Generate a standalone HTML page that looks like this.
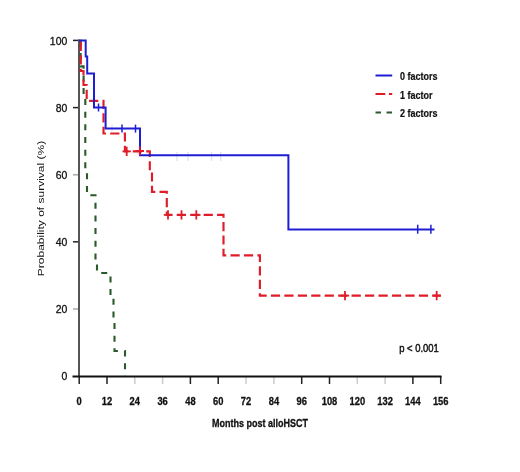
<!DOCTYPE html>
<html>
<head>
<meta charset="utf-8">
<style>
html,body{margin:0;padding:0;background:#fff;}
body{width:520px;height:472px;overflow:hidden;}
svg{display:block;filter:blur(0.55px);}
text{font-family:"Liberation Sans",sans-serif;font-weight:normal;fill:#111;stroke:#111;stroke-width:0.6px;}
.b text,text.b{font-weight:bold;stroke-width:0.3px;}
.yl{stroke-width:0px;}
.yt text{stroke-width:0.3px;}
.lg text{stroke-width:0.2px;}
</style>
</head>
<body>
<svg width="520" height="472" viewBox="0 0 520 472">
<rect x="0" y="0" width="520" height="472" fill="#fff"/>

<!-- y ticks -->
<g stroke="#222" stroke-width="1.5">
<line x1="73" y1="40.4" x2="79" y2="40.4"/>
<line x1="73" y1="107.6" x2="79" y2="107.6"/>
<line x1="73" y1="174.8" x2="79" y2="174.8" stroke="#aaa"/>
<line x1="73" y1="241.8" x2="79" y2="241.8"/>
<line x1="73" y1="309" x2="79" y2="309" stroke="#aaa"/>
</g>

<!-- x ticks -->
<g stroke="#222" stroke-width="1.5">
<line x1="79.2" y1="376" x2="79.2" y2="384"/>
<line x1="107" y1="376" x2="107" y2="384"/>
<line x1="134.8" y1="376" x2="134.8" y2="384" stroke="#ccc"/>
<line x1="162.6" y1="376" x2="162.6" y2="384" stroke="#ccc"/>
<line x1="190.4" y1="376" x2="190.4" y2="384"/>
<line x1="218.2" y1="376" x2="218.2" y2="384"/>
<line x1="246" y1="376" x2="246" y2="384" stroke="#ccc"/>
<line x1="273.9" y1="376" x2="273.9" y2="384" stroke="#ccc"/>
<line x1="301.7" y1="376" x2="301.7" y2="384"/>
<line x1="329.5" y1="376" x2="329.5" y2="384"/>
<line x1="357.3" y1="376" x2="357.3" y2="384" stroke="#ccc"/>
<line x1="385.1" y1="376" x2="385.1" y2="384" stroke="#ccc"/>
<line x1="412.9" y1="376" x2="412.9" y2="384"/>
<line x1="440.7" y1="376" x2="440.7" y2="384"/>
</g>

<!-- axes -->
<line x1="79" y1="39.5" x2="79" y2="377" stroke="#555" stroke-width="2"/>
<line x1="72.5" y1="376.5" x2="441.5" y2="376.5" stroke="#111" stroke-width="2"/>

<!-- y tick labels -->
<g font-size="11" text-anchor="end" class="yt">
<text transform="translate(67.3,44.5) scale(0.95,1)">100</text>
<text transform="translate(67.3,111.7) scale(0.95,1)">80</text>
<text transform="translate(67.3,178.9) scale(0.95,1)">60</text>
<text transform="translate(67.3,246) scale(0.95,1)">40</text>
<text transform="translate(67.3,313.2) scale(0.95,1)">20</text>
<text transform="translate(67.3,380.4) scale(0.95,1)">0</text>
</g>

<!-- x tick labels -->
<g font-size="11" text-anchor="middle" class="b">
<text transform="translate(79.2,405) scale(0.85,1)">0</text>
<text transform="translate(107,405) scale(0.85,1)">12</text>
<text transform="translate(134.8,405) scale(0.85,1)">24</text>
<text transform="translate(162.6,405) scale(0.85,1)">36</text>
<text transform="translate(190.4,405) scale(0.85,1)">48</text>
<text transform="translate(218.2,405) scale(0.85,1)">60</text>
<text transform="translate(246,405) scale(0.85,1)">72</text>
<text transform="translate(273.9,405) scale(0.85,1)">84</text>
<text transform="translate(301.7,405) scale(0.85,1)">96</text>
<text transform="translate(329.5,405) scale(0.85,1)">108</text>
<text transform="translate(357.3,405) scale(0.85,1)">120</text>
<text transform="translate(385.1,405) scale(0.85,1)">132</text>
<text transform="translate(412.9,405) scale(0.85,1)">144</text>
<text transform="translate(440.7,405) scale(0.85,1)">156</text>
</g>

<!-- axis titles -->
<text font-size="11" text-anchor="middle" class="b" transform="translate(260,427.3) scale(0.82,1)">Months post alloHSCT</text>
<text font-size="12" text-anchor="middle" class="yl" transform="translate(44.2,208.5) rotate(-90) scale(1,0.82)">Probability of survival (%)</text>

<!-- green curve: 2 factors -->
<path d="M79 40.5 H80.6 V66.4 H83.6 V96 H85.3 V170 H87 V195.3 H95.5 V262 H97 V273 H110.5 V298 H113.5 V324 H114.5 V351 H125 V376"
 fill="none" stroke="#2a5a2a" stroke-width="2.1" stroke-dasharray="6 6.66" stroke-dashoffset="-1.55"/>

<!-- red curve: 1 factor -->
<path d="M79 40.5 H80.8 V71 H83.5 V85 H86.7 V100.8 H103.5 V133.5 H124.9 V151.3 H149.8 V172.3 H152 V191.8 H166.8 V214.9 H223.5 V255.3 H259.9 V295.6 H440.8"
 fill="none" stroke="#e01c28" stroke-width="2.15" stroke-dasharray="9.2 4.25" stroke-dashoffset="10.3"/>


<g stroke="#dcdff0" stroke-width="1.2">
<line x1="112" y1="124.6" x2="112" y2="132.6"/>
<line x1="177" y1="152" x2="177" y2="161"/>
<line x1="188" y1="152" x2="188" y2="161"/>
<line x1="211.5" y1="152" x2="211.5" y2="161"/>
<line x1="220.7" y1="152" x2="220.7" y2="161"/>
</g>
<!-- blue curve: 0 factors -->
<path d="M79 40.5 H85.7 V56.5 H87.2 V73.5 H94 V107.5 H105.6 V128.6 H140 V155.3 H288.4 V229.5 H434.5"
 fill="none" stroke="#1e1ed4" stroke-width="2"/>
<g stroke="#1e1ed4" stroke-width="1.5">
<line x1="98.5" y1="103.5" x2="98.5" y2="111.5"/>
<line x1="122" y1="124.6" x2="122" y2="132.6"/>
<line x1="135.5" y1="124.6" x2="135.5" y2="132.6"/>
<line x1="417.7" y1="224.7" x2="417.7" y2="233.7"/>
<line x1="430.9" y1="224.7" x2="430.9" y2="233.7"/>
</g>


<g stroke="#e01c28" stroke-width="1.8">
<path d="M122.5 151.3 H130.9 M126.7 146.7 V155.9"/>
<path d="M135.6 151.0 H144.0 M139.8 146.4 V155.6"/>
<path d="M163.8 214.9 H172.2 M168.0 210.3 V219.5"/>
<path d="M177.3 214.9 H185.7 M181.5 210.3 V219.5"/>
<path d="M192.1 214.9 H200.5 M196.3 210.3 V219.5"/>
<path d="M340.8 295.6 H349.2 M345.0 291.0 V300.2"/>
<path d="M432.5 295.6 H440.9 M436.7 291.0 V300.2"/>
</g>
<!-- legend -->
<line x1="375.5" y1="75.5" x2="392.2" y2="75.5" stroke="#1e1ed4" stroke-width="2"/>
<line x1="375.5" y1="94" x2="392.2" y2="94" stroke="#e01c28" stroke-width="2" stroke-dasharray="9.8 3.6"/>
<line x1="375.5" y1="112.5" x2="392.2" y2="112.5" stroke="#2a5a2a" stroke-width="2" stroke-dasharray="5.5 5.5"/>
<g font-size="10" class="b lg">
<text transform="translate(400,79.6) scale(0.9,1)">0 factors</text>
<text transform="translate(400,98.6) scale(0.9,1)">1 factor</text>
<text transform="translate(400,117) scale(0.9,1)">2 factors</text>
</g>

<text font-size="11" style="stroke-width:0.45px" transform="translate(399.2,352) scale(0.86,1)">p &lt; 0.001</text>
</svg>
</body>
</html>
